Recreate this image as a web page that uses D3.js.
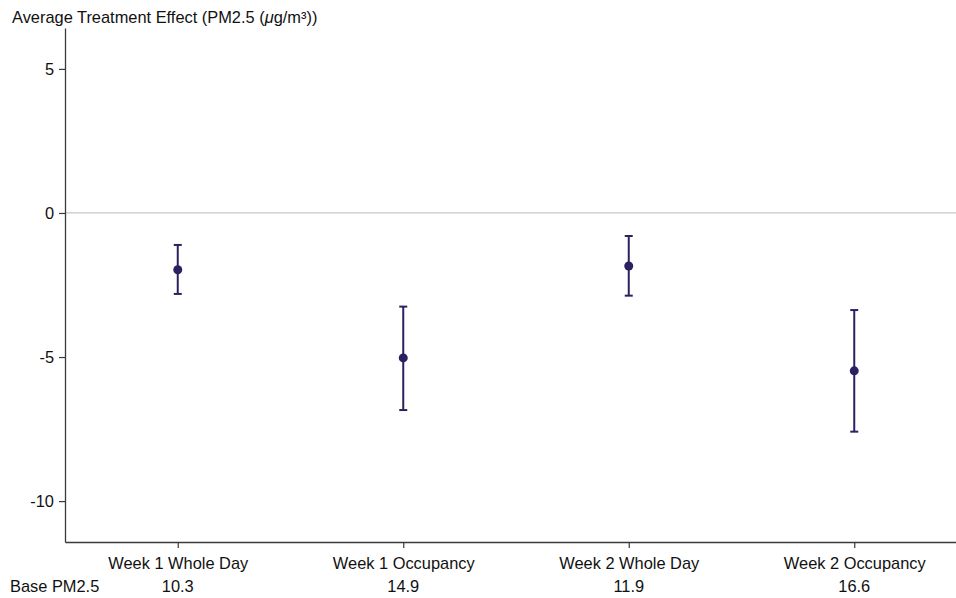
<!DOCTYPE html>
<html>
<head>
<meta charset="utf-8">
<script src="https://cdn.jsdelivr.net/npm/d3@7"></script>
<style>
  html, body { margin: 0; padding: 0; background: #fff; }
  svg { display: block; font-family: "Liberation Sans", Arial, Helvetica, sans-serif; }
</style>
</head>
<body>
<svg id="chart" width="956" height="598"></svg>
<script>
// Estimates with 95% confidence intervals, by period
const categories = ["Week 1 Whole Day", "Week 1 Occupancy", "Week 2 Whole Day", "Week 2 Occupancy"];
const estimates  = [-1.97, -5.03, -1.84, -5.48];
const ciLower    = [-2.81, -6.84, -2.87, -7.59];
const ciUpper    = [-1.11, -3.25, -0.80, -3.37];
const basePM     = ["10.3", "14.9", "11.9", "16.6"];
const yTicks     = [5, 0, -5, -10];

const W = 956, H = 598;
const margin = { left: 65, top: 28, bottom: 56 };
const color = "#2c2060";
const axisColor = "#3a3a3a";
const fs = 16.4;

const svg = d3.select("#chart");

const x = d3.scaleLinear().domain([0.5, 4.5]).range([margin.left, margin.left + 4 * 225.5]);
const y = d3.scaleLinear().domain([-11.42, 6.42]).range([H - margin.bottom, margin.top]);

const rows = categories.map((c, i) => ({
  cat: c, pos: i + 1, est: estimates[i], lo: ciLower[i], hi: ciUpper[i], base: basePM[i]
}));

// zero reference line
svg.append("line")
  .attr("x1", margin.left).attr("x2", W)
  .attr("y1", y(0)).attr("y2", y(0))
  .attr("stroke", "#c9c9c9").attr("stroke-width", 1.2);

// y axis (plain hyphen for negatives)
const yAxis = svg.append("g")
  .attr("transform", `translate(${margin.left},0)`)
  .call(d3.axisLeft(y).tickValues(yTicks).tickFormat(d => String(d))
    .tickSize(6).tickPadding(5).tickSizeOuter(0));
yAxis.select(".domain").attr("stroke", axisColor).attr("stroke-width", 1.3);
yAxis.selectAll(".tick line").attr("stroke", axisColor).attr("stroke-width", 1.2);
yAxis.selectAll(".tick text").attr("font-size", fs).attr("fill", "#111")
  .attr("font-family", "'Liberation Sans', Arial, sans-serif");

// x axis
const xAxis = svg.append("g")
  .attr("transform", `translate(0,${y.range()[0]})`)
  .call(d3.axisBottom(x).tickValues(rows.map(d => d.pos)).tickFormat((d, i) => categories[i])
    .tickSize(6).tickPadding(9).tickSizeOuter(0));
xAxis.select(".domain").attr("stroke", axisColor).attr("stroke-width", 1.3);
xAxis.selectAll(".tick line").attr("stroke", axisColor).attr("stroke-width", 1.2);
xAxis.selectAll(".tick text").attr("font-size", fs).attr("fill", "#111")
  .attr("font-family", "'Liberation Sans', Arial, sans-serif");

// base PM2.5 row under the categories
svg.append("text")
  .attr("x", 10).attr("y", 592)
  .attr("font-size", fs).attr("fill", "#111")
  .text("Base PM2.5");
svg.selectAll("text.base").data(rows).join("text")
  .attr("class", "base")
  .attr("x", d => x(d.pos)).attr("y", 592)
  .attr("text-anchor", "middle")
  .attr("font-size", fs).attr("fill", "#111")
  .text(d => d.base);

// title
const title = svg.append("text")
  .attr("x", 12).attr("y", 23)
  .attr("font-size", fs).attr("fill", "#111");
title.append("tspan").text("Average Treatment Effect (PM2.5 (");
title.append("tspan").attr("font-style", "italic").text("\u03bc");
title.append("tspan").text("g/m\u00b3))");

// confidence intervals
const g = svg.append("g");
const cap = 4;
g.selectAll("line.ci").data(rows).join("line")
  .attr("class", "ci")
  .attr("x1", d => x(d.pos)).attr("x2", d => x(d.pos))
  .attr("y1", d => y(d.hi)).attr("y2", d => y(d.lo))
  .attr("stroke", color).attr("stroke-width", 2);
g.selectAll("line.capHi").data(rows).join("line")
  .attr("class", "capHi")
  .attr("x1", d => x(d.pos) - cap).attr("x2", d => x(d.pos) + cap)
  .attr("y1", d => y(d.hi)).attr("y2", d => y(d.hi))
  .attr("stroke", color).attr("stroke-width", 2);
g.selectAll("line.capLo").data(rows).join("line")
  .attr("class", "capLo")
  .attr("x1", d => x(d.pos) - cap).attr("x2", d => x(d.pos) + cap)
  .attr("y1", d => y(d.lo)).attr("y2", d => y(d.lo))
  .attr("stroke", color).attr("stroke-width", 2);

// point estimates
g.selectAll("circle").data(rows).join("circle")
  .attr("cx", d => x(d.pos)).attr("cy", d => y(d.est))
  .attr("r", 4.5).attr("fill", color);
</script>
</body>
</html>
